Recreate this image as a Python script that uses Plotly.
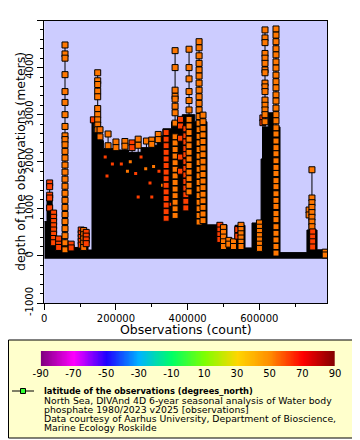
import plotly.graph_objects as go

# ---------------- data ----------------
# envelope of the dense black region (step shape): start observation index, max depth (m)
env_obs = [0, 7500, 22000, 30000, 63000, 96000, 122000, 133100, 136000, 147100, 165000,
           200000, 235000, 270000, 300000, 315000, 331000, 355000, 385000, 420000, 454000,
           509900, 532300, 560200, 579700, 605000, 609000, 625000, 640000, 657900, 733000,
           761200, 789000]
env_top = [730, 1200, 900, 200, 180, 550, 125, 2930, 2620, 2450, 2280,
           2250, 2200, 2300, 2350, 2550, 2700, 2850, 3000, 2850, 660,
           340, 650, 170, 700, 2060, 2740, 3040, 2740, 70, 550,
           130, 130]
env_base = -60

# individual profiles drawn with markers: observation index, latitude, depths
cast_obs = [15000, 26000, 40000, 57800, 75000, 103000, 110000, 117000,
            137000, 149000, 155500, 178000, 200000, 225000, 245000, 262000, 285000, 300000, 318000,
            340000, 365000, 380000, 395000, 404000, 432000, 443000,
            490000, 500000, 515000, 528000, 540000, 549000, 600500,
            610000, 616000, 646700, 739000, 747000, 749000, 784000]
cast_lat = [61, 60, 61, 53, 61, 61, 54, 61,
            61, 53, 54, 53, 53, 53, 61, 53, 53, 53, 53,
            61, 53, 61, 61, 53, 53, 53,
            61, 53, 53, 53, 61, 53, 53,
            61, 53, 53, 53, 53, 61, 53]
cast_depths = [
    [1550, 1470, 1290, 1230, 1020],
    [910, 820, 730, 640, 550, 460, 370, 280],
    [360, 250, 180],
    [4480, 4290, 4200, 3850, 3490, 3260, 3000, 2750, 2550, 2470, 2360, 2220, 2080, 1930,
     1780, 1630, 1480, 1330, 1180, 1030, 880, 730, 580, 430, 280, 130],
    [250, 170],
    [550, 470, 390, 310, 230],
    [540, 450, 360, 270, 180],
    [500, 420, 340, 260],
    [2890],
    [3890, 3720, 3640, 3500, 3380, 3130, 3000, 2890, 2780, 2680],
    [2680, 2530],
    [2590, 2340],
    [2420, 2300],
    [2430, 2330],
    [2400, 2300],
    [2480, 2350],
    [2440],
    [2460, 2370],
    [2580, 2470],
    [2620, 2480, 2340, 2200, 2060, 1920, 1780, 1640, 1500, 1360, 1220, 1080, 940, 800],
    [4360, 4000, 3520, 3390, 3330, 3180, 3040, 2820, 2530, 2400, 2260, 2120, 1980, 1840,
     1700, 1560, 1420, 1280, 1140, 1000, 860],
    [2900, 2760, 2500, 2100, 1800],
    [2700, 2550, 2420, 2280, 2150, 2000, 1860, 1720, 1580, 1440, 1300, 1160, 1020],
    [4390, 4000, 3760, 3490, 3300, 3100, 2900, 2760, 2620, 2480, 2340, 2200, 2060, 1920,
     1780, 1640, 1500, 1360],
    [4550, 4420, 4250, 4090, 3950, 3820, 3670, 3520, 3380, 3240, 3100, 2960, 2820, 2680,
     2540, 2400, 2260, 2120, 1980, 1840, 1700, 1560, 1420, 1280, 1140, 1000, 860, 720],
    [2990, 2850, 2710, 2570, 2430, 2290, 2150, 2010, 1870, 1730, 1590, 1450, 1310, 1170,
     1030, 890, 750],
    [650, 550, 450, 350],
    [600, 500, 400, 300, 200],
    [330, 250],
    [300, 200],
    [560, 420],
    [650, 560, 470, 380, 290, 200],
    [700, 610, 520, 430, 340, 250, 160],
    [2930, 2830],
    [4800, 4630, 4530, 4300, 4200, 4090, 3950, 3890, 3670, 3590, 3490, 3310, 3200, 3100,
     3000, 2850],
    [4820, 4690, 4550, 4400, 4270, 4120, 3990, 3840, 3700, 3570, 3420, 3290, 3140, 3000,
     2870, 2720, 2590, 2440, 2300, 2170, 2020, 1880, 1750, 1600, 1470, 1320, 1180, 1050,
     900, 770, 620, 480, 340, 200, 60],
    [975, 870],
    [1830, 1230, 1130, 1030, 920, 820, 720, 620],
    [510, 400, 300, 190],
    [80, 20],
]

# small partly hidden markers inside the dense black block
speck_obs = [170000, 190000, 215000, 232000, 240000, 255000, 270000, 283000, 295000,
             305000, 320000, 175000, 262000, 300000, 330000, 350000]
speck_depth = [2100, 1950, 1950, 1800, 2000, 1750, 2100, 1850, 1550, 1900, 1800,
               1700, 1250, 1250, 1500, 1100]
speck_lat = [61, 61, 61, 53, 53, 61, 61, 53, 61, 53, 61, 61, 61, 61, 53, 61]

x_ticks = [0, 200000, 400000, 600000]
y_ticks = [-1000, 0, 1000, 2000, 3000, 4000, 5000]
y_ticklabels = ["-1000", "0", "1000", "2000", "3000", "4000", "5000"]

legend_title = "latitude of the observations (degrees_north)"
legend_lines = [
    "North Sea, DIVAnd 4D 6-year seasonal analysis of Water body",
    "phosphate 1980/2023 v2025 [observations]",
    "Data courtesy of Aarhus University, Department of Bioscience,",
    "Marine Ecology Roskilde",
]
cbar_ticks = [-90, -70, -50, -30, -10, 10, 30, 50, 70, 90]
cbar_ticklabels = ["-90", "-70", "-50", "-30", "-10", "10", "30", "50", "70", "90"]
cbar_levels = list(range(-90, 91))

colorscale = [
    [0.0, "#800080"], [0.111, "#ff00ff"], [0.222, "#2000ff"], [0.333, "#00b4ff"],
    [0.444, "#00ff66"], [0.556, "#80ff00"], [0.667, "#ffd700"], [0.778, "#ff8c00"],
    [0.889, "#ff0000"], [1.0, "#800000"],
]

FONT = "DejaVu Sans"
# the page body adds an 8px offset; the figure covers page pixels 8..360 x 8..440
OFF = 8
W, H = 360 - OFF, 440 - OFF


def fx(px):
    return (px - OFF) / W


def fy(py):
    return (440 - py) / H


# ---------------- build traces ----------------
fig = go.Figure()

fig.add_trace(go.Scatter(x=env_obs, y=[env_base] * len(env_obs), mode="lines",
                         line=dict(width=0, color="black", shape="hv"),
                         showlegend=False, hoverinfo="skip"))
fig.add_trace(go.Scatter(x=env_obs, y=env_top, mode="lines",
                         line=dict(width=1, color="black", shape="hv"),
                         fill="tonexty", fillcolor="black",
                         showlegend=False, hoverinfo="skip"))

lx, ly = [], []
for o, ds in zip(cast_obs, cast_depths):
    lx += [o, o, None]
    ly += [0, max(ds), None]
fig.add_trace(go.Scatter(x=lx, y=ly, mode="lines", line=dict(color="black", width=1),
                         showlegend=False, hoverinfo="skip"))

fig.add_trace(go.Scatter(
    x=speck_obs, y=speck_depth, mode="markers", showlegend=False,
    marker=dict(symbol="square", size=3, color=speck_lat, colorscale=colorscale,
                cmin=-90, cmax=90, line=dict(width=0))))

mx, my, mc = [], [], []
for o, la, ds in zip(cast_obs, cast_lat, cast_depths):
    for d in ds:
        mx.append(o)
        my.append(d)
        mc.append(la)
fig.add_trace(go.Scatter(
    x=mx, y=my, mode="markers", showlegend=False,
    marker=dict(symbol="square", size=6, color=mc, colorscale=colorscale,
                cmin=-90, cmax=90, line=dict(color="black", width=1))))

# colour bar drawn as a gradient strip
fig.add_trace(go.Heatmap(x=cbar_levels, y=[0], z=[cbar_levels], colorscale=colorscale,
                         zmin=-90, zmax=90, showscale=False, zsmooth="best",
                         xaxis="x2", yaxis="y2", hoverinfo="skip"))

# ---------------- layout ----------------
shapes = [
    dict(type="rect", xref="paper", yref="paper", x0=fx(8.5), x1=fx(357.5),
         y0=fy(438), y1=fy(340), fillcolor="#ffffcc",
         line=dict(color="black", width=1), layer="below"),
    dict(type="line", xref="paper", yref="paper", x0=fx(12), x1=fx(34),
         y0=fy(391), y1=fy(391), line=dict(color="black", width=1)),
    dict(type="rect", xref="paper", yref="paper", x0=fx(20.5), x1=fx(25.5),
         y0=fy(393.5), y1=fy(388.5), fillcolor="#33ff33",
         line=dict(color="black", width=1)),
]

annotations = [
    dict(text="<b>%s</b>" % legend_title, xref="paper", yref="paper",
         x=fx(42), y=fy(391), xanchor="left", yanchor="middle",
         showarrow=False, font=dict(family=FONT, size=8.3, color="black")),
    dict(text="depth of the observations (meters)", xref="paper", yref="paper",
         x=fx(20), y=fy(162), xanchor="center", yanchor="middle", textangle=-90,
         showarrow=False, font=dict(family=FONT, size=12.5, color="black")),
    dict(text="Observations (count)", xref="paper", yref="paper",
         x=fx(186), y=fy(329.5), xanchor="center", yanchor="middle",
         showarrow=False, font=dict(family=FONT, size=12.5, color="black")),
]
for i, t in enumerate(legend_lines):
    annotations.append(dict(text=t, xref="paper", yref="paper",
                            x=fx(42), y=fy(400.7 + 8.8 * i), xanchor="left",
                            yanchor="middle", showarrow=False,
                            font=dict(family=FONT, size=9.3, color="black")))

fig.update_layout(
    width=W, height=H,
    margin=dict(l=0, r=0, t=0, b=0, pad=0),
    paper_bgcolor="white", plot_bgcolor="#ccccff",
    font=dict(family=FONT, color="black"),
    shapes=shapes, annotations=annotations,
    xaxis=dict(domain=[fx(44.3), fx(327)], range=[0, 789000],
               tickvals=x_ticks, tickformat="d",
               ticks="outside", ticklen=6, tickcolor="black", automargin=False,
               minor=dict(dtick=100000, ticklen=3, ticks="outside", tickcolor="black"),
               showline=True, mirror=True, linecolor="black", linewidth=1,
               showgrid=False, zeroline=False,
               tickfont=dict(family=FONT, size=10, color="black")),
    yaxis=dict(domain=[fy(303), fy(20.5)], range=[-1000, 5000],
               tickvals=y_ticks, ticktext=y_ticklabels, tickangle=-90,
               ticks="outside", ticklen=6, tickcolor="black", automargin=False,
               minor=dict(dtick=200, ticklen=3, ticks="outside", tickcolor="black"),
               showline=True, mirror=True, linecolor="black", linewidth=1,
               showgrid=False, zeroline=False,
               tickfont=dict(family=FONT, size=10, color="black")),
    xaxis2=dict(domain=[fx(40.7), fx(335)], range=[-90, 90], anchor="y2",
                tickvals=cbar_ticks, ticktext=cbar_ticklabels, ticks="",
                showline=False, showgrid=False, zeroline=False, automargin=False,
                tickfont=dict(family=FONT, size=10, color="black")),
    yaxis2=dict(domain=[fy(366), fy(351)], anchor="x2", showticklabels=False,
                ticks="", showline=False, showgrid=False, zeroline=False,
                automargin=False, range=[-0.5, 0.5]),
)

fig.write_html("out.html")
